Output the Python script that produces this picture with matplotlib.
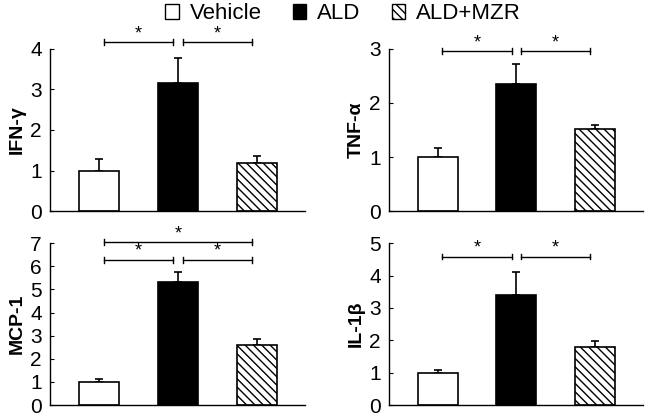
import numpy as np
import matplotlib.pyplot as plt
from matplotlib.patches import Patch

plt.rcParams['font.family'] = ['Liberation Sans', 'DejaVu Sans']

groups = ['Vehicle', 'ALD', 'ALD+MZR']
markers = ['IFN-γ', 'TNF-α', 'MCP-1', 'IL-1β']

# mean and upper error (SD)
means = {
    'IFN-γ': [1.0, 3.15, 1.18],
    'TNF-α': [1.0, 2.35, 1.51],
    'MCP-1': [1.0, 5.33, 2.58],
    'IL-1β': [1.0, 3.40, 1.80],
}
errs = {
    'IFN-γ': [0.28, 0.63, 0.19],
    'TNF-α': [0.16, 0.37, 0.08],
    'MCP-1': [0.14, 0.44, 0.29],
    'IL-1β': [0.07, 0.72, 0.18],
}
ymax = {'IFN-γ': 4, 'TNF-α': 3, 'MCP-1': 7, 'IL-1β': 5}
# significance brackets: (from, to, height)
sig = {
    'IFN-γ': [(0, 1, 4.17), (1, 2, 4.17)],
    'TNF-α': [(0, 1, 2.96), (1, 2, 2.96)],
    'MCP-1': [(0, 1, 6.29), (1, 2, 6.29), (0, 2, 7.04)],
    'IL-1β': [(0, 1, 4.59), (1, 2, 4.59)],
}

fills = ['white', 'black', 'white']
hatches = [None, None, '\\\\\\\\']

fig = plt.figure(figsize=(6.51, 4.18), dpi=100)
boxes = [
    [0.0768, 0.4952, 0.3917, 0.3876],
    [0.5975, 0.4952, 0.3902, 0.3876],
    [0.0768, 0.0311, 0.3917, 0.3869],
    [0.5975, 0.0311, 0.3902, 0.3869],
]

x = np.arange(3)
for name, box in zip(markers, boxes):
    ax = fig.add_axes(box)
    for i in range(3):
        ax.bar(x[i], means[name][i], width=0.506, color=fills[i],
               edgecolor='black', linewidth=1.2, hatch=hatches[i], zorder=2)
        ax.errorbar(x[i], means[name][i], yerr=[[0], [errs[name][i]]],
                    fmt='none', ecolor='black', elinewidth=1.2, capsize=3,
                    capthick=1.2, zorder=1)
    for a, b, h in sig[name]:
        x0 = a + 0.06
        x1 = b - 0.06
        tick = ymax[name] * 0.018
        ax.plot([x0, x1], [h, h], color='black', lw=1, clip_on=False)
        ax.plot([x0, x0], [h - tick, h + tick], color='black', lw=1, clip_on=False)
        ax.plot([x1, x1], [h - tick, h + tick], color='black', lw=1, clip_on=False)
        ax.text((a + b) / 2, h, '*', ha='center', va='bottom', fontsize=13)
    ax.set_xlim(-0.62, 2.61)
    ax.set_ylim(0, ymax[name])
    ax.set_yticks(range(ymax[name] + 1))
    ax.set_xticks([])
    ax.spines['top'].set_visible(False)
    ax.spines['right'].set_visible(False)
    ax.spines['left'].set_linewidth(1.0)
    ax.spines['bottom'].set_linewidth(1.0)
    ax.tick_params(axis='y', direction='in', length=3, labelsize=15, pad=6)
    ax.set_ylabel(name, fontsize=14, fontweight='bold', labelpad=3)

handles = [Patch(facecolor=fills[i], edgecolor='black', hatch=hatches[i],
                 linewidth=1.0) for i in range(3)]
fig.legend(handles, groups, loc='upper center', bbox_to_anchor=(0.527, 1.04),
           ncol=3, frameon=False, fontsize=16, handlelength=0.6,
           handleheight=0.6, handletextpad=0.5, columnspacing=1.4)

plt.savefig('out.png', dpi=100)
